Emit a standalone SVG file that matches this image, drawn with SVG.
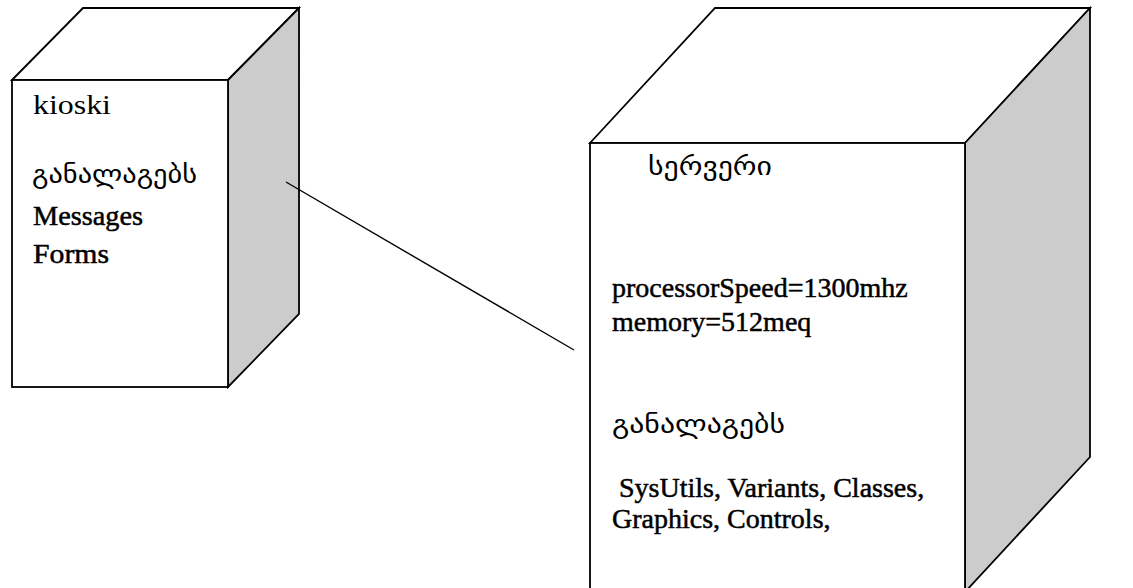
<svg xmlns="http://www.w3.org/2000/svg" width="1133" height="588" viewBox="0 0 1133 588">
  <style>
    .face { fill: #ffffff; stroke: #000000; stroke-width: 1.8; stroke-linejoin: miter; }
    .side { fill: #cccccc; stroke: #000000; stroke-width: 1.8; stroke-linejoin: miter; }
    .lat { font-family: "Liberation Serif", "DejaVu Serif", serif; font-size: 28px; fill: #000000; }
    .bold { stroke: #000000; stroke-width: 0.5; }
    .geo { font-family: "DejaVu Sans", "Noto Sans", sans-serif; font-size: 26px; fill: #000000; }
    .link { stroke: #000000; stroke-width: 1.4; fill: none; }
  </style>

  <!-- client node -->
  <g id="kiosk">
    <polygon class="face" points="12,80 83,8 299,8 228,80"/>
    <polygon class="side" points="228,80 299,8 299,314 228,387"/>
    <rect class="face" x="12" y="80" width="216" height="307"/>
    <text class="lat" x="33" y="114" textLength="78" lengthAdjust="spacingAndGlyphs">kioski</text>
    <text class="geo" x="32" y="183" textLength="165" lengthAdjust="spacingAndGlyphs">განალაგებს</text>
    <text class="lat bold" x="33" y="225" textLength="110" lengthAdjust="spacingAndGlyphs">Messages</text>
    <text class="lat bold" x="33" y="263" textLength="76" lengthAdjust="spacingAndGlyphs">Forms</text>
  </g>

  <!-- server node -->
  <g id="server">
    <polygon class="face" points="590,143 715,8 1090,8 965,143"/>
    <polygon class="side" points="965,143 1090,8 1090,457 965,592"/>
    <rect class="face" x="590" y="143" width="375" height="460"/>
    <text class="geo" x="648" y="175" textLength="124" lengthAdjust="spacingAndGlyphs">სერვერი</text>
    <text class="lat bold" x="612" y="297">processorSpeed=1300mhz</text>
    <text class="lat bold" x="612" y="331">memory=512meq</text>
    <text class="geo" x="612" y="433" textLength="173" lengthAdjust="spacingAndGlyphs">განალაგებს</text>
    <text class="lat bold" x="612" y="497" xml:space="preserve"> SysUtils, Variants, Classes,</text>
    <text class="lat bold" x="612" y="528">Graphics, Controls,</text>
  </g>

  <!-- connectors -->
  <g id="connectors">
    <line class="link" x1="286" y1="182" x2="574" y2="350"/>
  </g>
</svg>
